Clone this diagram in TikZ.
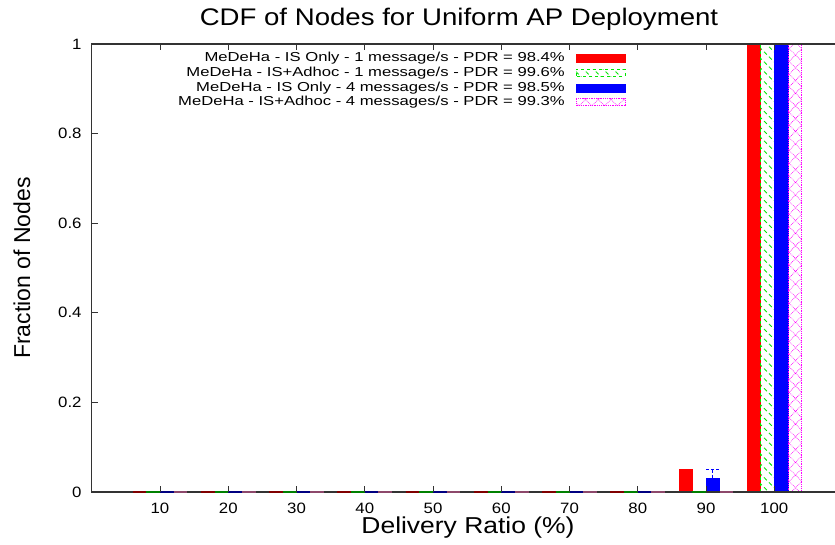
\documentclass[tikz,border=0pt]{standalone}
\usepackage{fontspec}
\setmainfont{Liberation Sans}
\usetikzlibrary{
	patterns.meta
}
\definecolor{gpred}{RGB}{255,0,0}
\definecolor{gpgreen}{RGB}{0,230,0}
\definecolor{gpblue}{RGB}{0,0,255}
\definecolor{gpmagenta}{RGB}{255,0,255}
\tikzset{
	every node/.style={
		inner sep=0pt
	},
	plotframe/.style={
		line width=1.3pt,
		black!80
	},
	tickmark/.style={
		line width=0.8pt,
		black!80
	},
	ticklabel/.style={
		font=\fontsize{15}{15}\selectfont,
		xscale=1.12
	},
	axislabel/.style={
		font=\fontsize{23}{23}\selectfont
	},
	keylabel/.style={
		font=\fontsize{13}{13}\selectfont,
		xscale=1.28,
		anchor=east
	},
	barred/.style={
		fill=gpred,
		draw=gpred
	},
	bargreen/.style={
		draw=gpgreen,
		dashed,
		line width=0.8pt,
		pattern={Lines[angle=-45,distance=7pt,line width=0.9pt]},
		pattern color=gpgreen
	},
	barblue/.style={
		fill=gpblue,
		draw=gpblue
	},
	barmagenta/.style={
		draw=gpmagenta,
		densely dotted,
		line width=0.8pt,
		pattern={Hatch[angle=45,distance=9pt,line width=0.6pt]},
		pattern color=gpmagenta
	},
	zerobar/.style={
		line width=2.2pt
	}
}

\begin{document}
\begin{tikzpicture}[x=1pt,y=1pt]
	\useasboundingbox (0,0) rectangle (835,545);

	\node[axislabel,font=\fontsize{24}{24}\selectfont,xscale=1.15] (title) at (459,526)
		{CDF of Nodes for Uniform AP Deployment};
	\node[axislabel,xscale=1.15] (xlabel) at (468,17) {Delivery Ratio (\%)};
	\node[axislabel,rotate=90]   (ylabel) at (22,277) {Fraction of Nodes};

	\begin{scope}[shift={(91.75,53)},x=6.825pt,y=448pt]
		% bars
		\draw[barred]     (86,0)  rectangle (88,0.05);
		\draw[barblue]    (90,0)  rectangle (92,0.03);
		\draw[gpblue,densely dashed,line width=0.8pt]
			(90,0.05) -- (92,0.05)
			(91,0.05) -- (91,0.03);
		\draw[barred]     (96,0)  rectangle (98,1);
		\draw[bargreen]   (98,0)  rectangle (100,1);
		\draw[barblue]    (100,0) rectangle (102,1);
		\draw[barmagenta] (102,0) rectangle (104,1);

		% frame
		\draw[plotframe] (110,1) -- (0,1) -- (0,0) -- (110,0);

		% empty bars on the baseline
		\foreach \v in {10,20,...,80} {
			\draw[zerobar,red!50!black]     (\v-4,0) -- (\v-2,0);
			\draw[zerobar,green!50!black]   (\v-2,0) -- (\v,0);
			\draw[zerobar,blue!50!black]    (\v,0)   -- (\v+2,0);
			\draw[zerobar,magenta!50!black] (\v+2,0) -- (\v+4,0);
		}
		\draw[zerobar,green!50!black]   (88,0) -- (90,0);
		\draw[zerobar,magenta!50!black] (92,0) -- (94,0);

		% ticks
		\foreach \v in {10,20,...,100} {
			\draw[tickmark] (\v,0) -- ++(0,6pt);
			\draw[tickmark] (\v,1) -- ++(0,-6pt);
			\node[ticklabel] (xt\v) at ([yshift=-16pt]\v,0) {\v};
		}
		\foreach \f/\t in {0/0,0.2/0.2,0.4/0.4,0.6/0.6,0.8/0.8,1/1} {
			\draw[tickmark] (0,\f) -- ++(6pt,0);
			\node[ticklabel,anchor=east] (yt\t) at ([xshift=-10pt]0,\f) {\t};
		}
	\end{scope}

	% key
	\node[keylabel] (key1) at (565,487) {MeDeHa - IS Only - 1 message/s - PDR = 98.4\%};
	\node[keylabel] (key2) at (565,472) {MeDeHa - IS+Adhoc - 1 message/s - PDR = 99.6\%};
	\node[keylabel] (key3) at (565,457) {MeDeHa - IS Only - 4 messages/s - PDR = 98.5\%};
	\node[keylabel] (key4) at (565,443) {MeDeHa - IS+Adhoc - 4 messages/s - PDR = 99.3\%};
	\draw[barred]     ([xshift=11pt,yshift=-4pt]key1.east) rectangle ++(49pt,8pt);
	\draw[bargreen]   ([xshift=11pt,yshift=-3.5pt]key2.east) rectangle ++(49pt,7pt);
	\draw[barblue]    ([xshift=11pt,yshift=-4pt]key3.east) rectangle ++(49pt,8pt);
	\draw[barmagenta] ([xshift=11pt,yshift=-3.5pt]key4.east) rectangle ++(49pt,7pt);
\end{tikzpicture}
\end{document}
